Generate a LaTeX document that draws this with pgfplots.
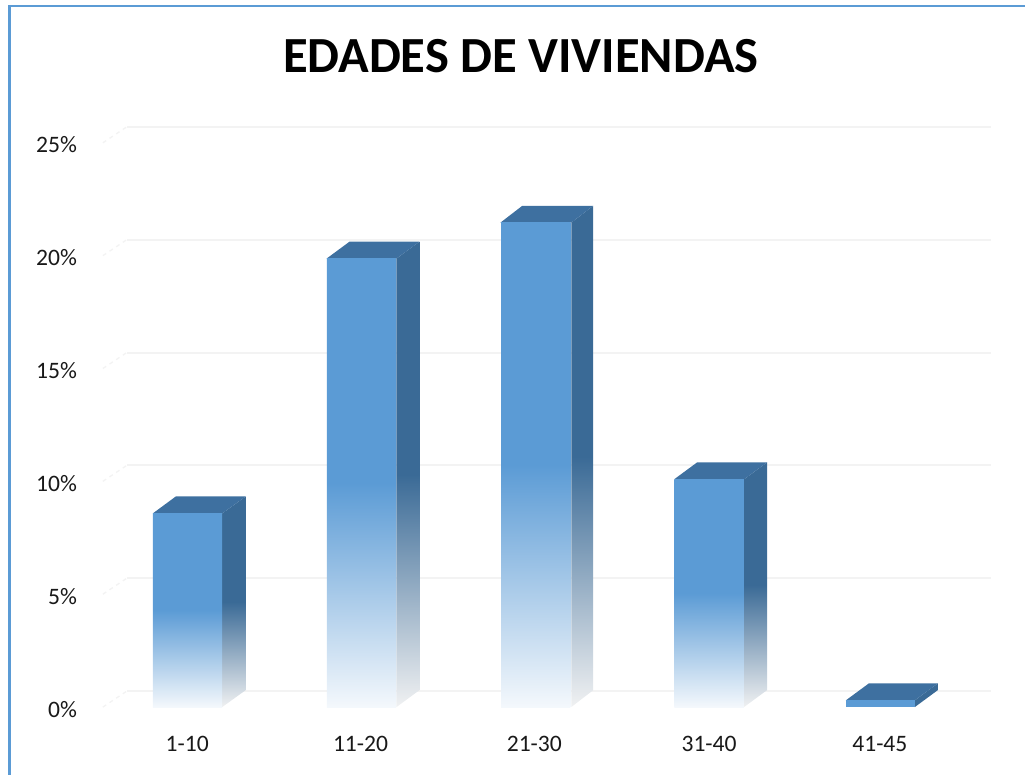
\documentclass[border=0pt]{standalone}
\usepackage{pgfplots}
\pgfplotsset{compat=1.18}
\usepackage{fontspec}
\setmainfont{Carlito}
\definecolor{fr}{HTML}{5B9BD5}
\definecolor{sd}{HTML}{3A6A96}
\definecolor{tp}{HTML}{3E70A0}
\definecolor{frb}{HTML}{F4F8FC}
\definecolor{sdb}{HTML}{F0F1F2}
\definecolor{gr}{HTML}{F3F3F3}
\definecolor{frame}{HTML}{5B9BD5}
\pgfplotsset{
  frontbar/.style={ybar,bar shift=0pt,bar width=52.1pt,draw=none,shade,top color=fr,bottom color=frb,middle color=fr,forget plot},
  sideface/.style={draw=none,shade,top color=sd,bottom color=sdb,middle color=sd,forget plot},
}
\begin{document}
\begin{tikzpicture}[x=1pt,y=1pt]
\begin{axis}[
  scale only axis, width=666.75pt, height=435.75pt,
  xmin=103, xmax=992, ymin=0, ymax=25.708,
  clip=false, axis line style={draw=none},
  tick style={draw=none}, major tick length=0pt,
  xtick={187.5,361,535,710,881},
  xticklabels={1-10,11-20,21-30,31-40,41-45},
  ytick={0,5,10,15,20,25},
  yticklabels={0\%,5\%,10\%,15\%,20\%,25\%},
  ticklabel style={font=\fontsize{17.7}{20}\selectfont,text=black!90},
  yticklabel style={xshift=-16pt,yshift=-1.5pt},
  xticklabel style={yshift=-18.5pt},
  title={\fontsize{38}{42}\selectfont\bfseries EDADES DE VIVIENDAS},
  title style={at={(axis cs:521.5,28.5)},anchor=center},
]
% canvas and frame
\addplot[draw=none,forget plot] coordinates {(0,-3.009)(1026,31.327)};
\addplot[frame,line width=2pt,forget plot] coordinates {(9.5,-3.009)(9.5,31.06)(1026,31.06)};
% grid
\pgfplotsinvokeforeach{0,5,10,15,20,25}{
  \addplot[gr,line width=1.5pt,forget plot] coordinates {(127,#1+0.708)(992,#1+0.708)};
  \addplot[gr,line width=1pt,dashed,forget plot] coordinates {(103,#1)(127,#1+0.708)};
}
% sides
\addplot[sideface] coordinates {(222.5,0)(222.5,8.58)(246,9.33)(246,0.75)} --cycle;
\addplot[sideface] coordinates {(397,0)(397,19.87)(420,20.62)(420,0.75)} --cycle;
\addplot[sideface] coordinates {(572,0)(572,21.46)(594,22.21)(594,0.75)} --cycle;
\addplot[sideface] coordinates {(745,0)(745,10.09)(768,10.84)(768,0.75)} --cycle;
\addplot[draw=none,fill=sd,forget plot] coordinates {(916,0)(916,0.3)(939,1.05)(939,0.75)} --cycle;
% tops
\addplot[draw=none,fill=tp,forget plot] coordinates {(153,8.58)(222.5,8.58)(246,9.33)(176,9.33)} --cycle;
\addplot[draw=none,fill=tp,forget plot] coordinates {(327,19.87)(397,19.87)(420,20.62)(350,20.62)} --cycle;
\addplot[draw=none,fill=tp,forget plot] coordinates {(501,21.46)(572,21.46)(594,22.21)(523,22.21)} --cycle;
\addplot[draw=none,fill=tp,forget plot] coordinates {(675,10.09)(745,10.09)(768,10.84)(698,10.84)} --cycle;
\addplot[draw=none,fill=tp,forget plot] coordinates {(847,0.3)(916,0.3)(939,1.05)(870,1.05)} --cycle;
% fronts
\addplot[frontbar] coordinates {(187.7,8.58)};
\addplot[frontbar] coordinates {(362,19.87)};
\addplot[frontbar] coordinates {(536.5,21.46)};
\addplot[frontbar] coordinates {(710,10.09)};
\addplot[ybar,bar shift=0pt,bar width=52.1pt,draw=none,fill=fr,forget plot] coordinates {(881.5,0.3)};
\end{axis}
\end{tikzpicture}
\end{document}
